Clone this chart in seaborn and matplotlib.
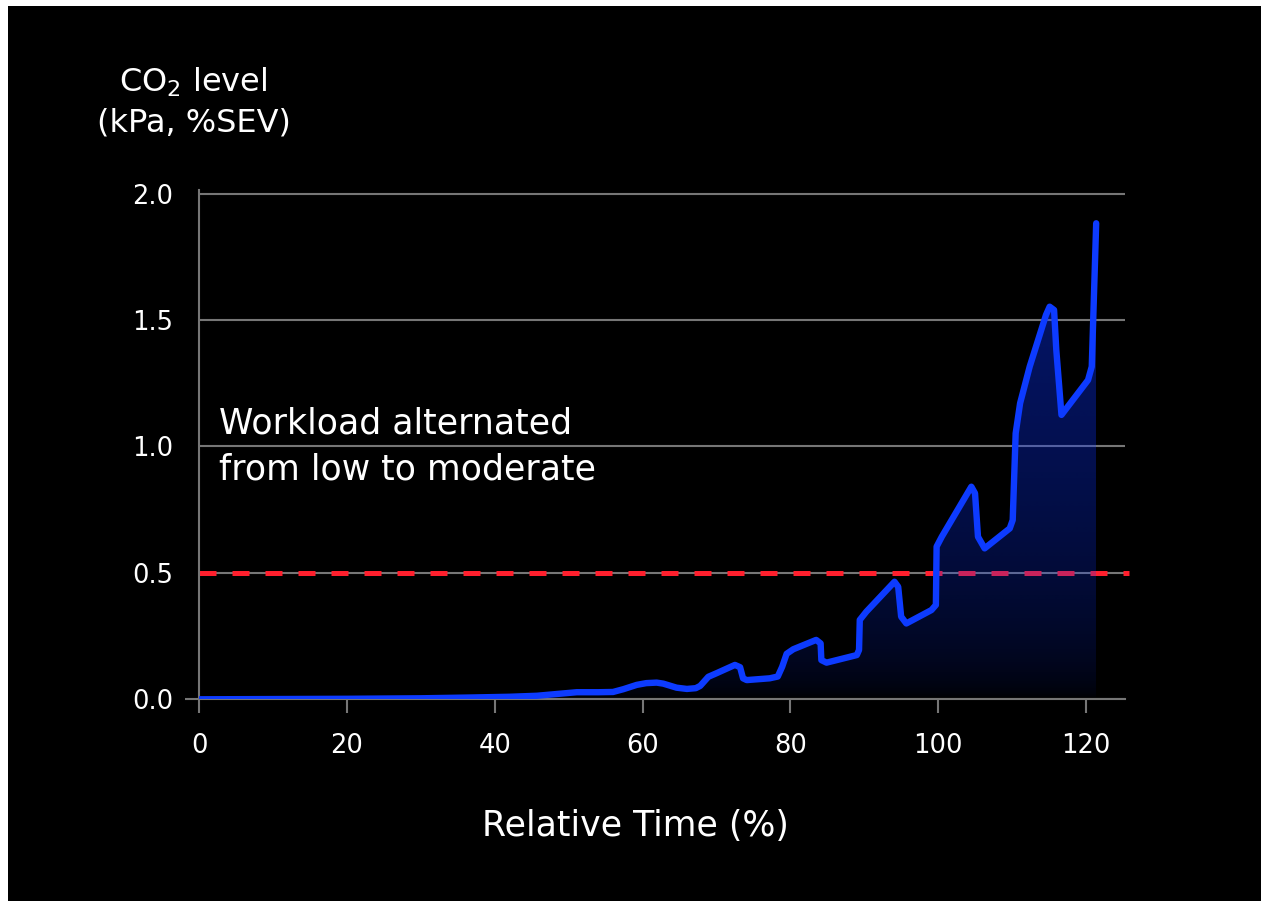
import numpy as np
import pandas as pd
import matplotlib
matplotlib.use("Agg")
import matplotlib.pyplot as plt
from matplotlib.patches import Polygon, Rectangle
import seaborn as sns

# ---- data ----
time_pct = [0, 10, 20, 30, 36.6, 42, 45.7, 48.4, 51.1, 54.0, 56.0, 57.4, 59.2, 60.5, 61.9,
            62.8, 64.6, 66.0, 67.2, 67.8, 68.9, 70.0, 72.5, 73.2, 73.6, 74.1, 77.2, 78.3,
            78.9, 79.5, 80.4, 83.5, 84.1, 84.2, 84.9, 89.0, 89.3, 89.4, 90.3, 94.1, 94.6,
            95.0, 95.7, 99.1, 99.7, 99.8, 100.5, 104.5, 105.0, 105.4, 106.3, 109.7,
            110.1, 110.5, 111.1, 112.4, 114.6, 115.1, 115.7, 116.0, 116.7, 120.3, 120.8,
            121.4]
co2_level = [0.0, 0.001, 0.002, 0.004, 0.007, 0.010, 0.014, 0.021, 0.028, 0.028, 0.029,
             0.040, 0.057, 0.064, 0.066, 0.062, 0.046, 0.041, 0.044, 0.053, 0.089, 0.103,
             0.136, 0.127, 0.083, 0.076, 0.083, 0.090, 0.129, 0.180, 0.198, 0.235, 0.221,
             0.155, 0.145, 0.175, 0.195, 0.314, 0.347, 0.465, 0.445, 0.327, 0.300, 0.353,
             0.373, 0.604, 0.643, 0.841, 0.815, 0.643, 0.597, 0.676, 0.709, 1.052, 1.171,
             1.316, 1.520, 1.553, 1.540, 1.382, 1.125, 1.263, 1.316, 1.883]
threshold = 0.5
x_ticks = [0, 20, 40, 60, 80, 100, 120]
y_ticks = [0.0, 0.5, 1.0, 1.5, 2.0]
y_tick_labels = ["0.0", "0.5", "1.0", "1.5", "2.0"]
annotation = "Workload alternated\nfrom low to moderate"
x_title = "Relative Time (%)"

df = pd.DataFrame({"time": time_pct, "co2": co2_level})

sns.set_theme(style="dark")
FONT = ["DejaVu Sans"]
plt.rcParams["font.family"] = FONT
plt.rcParams["mathtext.fontset"] = "dejavusans"

W, H = 1261, 901
fig = plt.figure(figsize=(W / 100, H / 100), dpi=100, facecolor="white")
# black panel
fig.patches.append(Rectangle((8 / W, 0), 1 - 8 / W, (H - 6) / H, transform=fig.transFigure,
                             facecolor="black", edgecolor="none", zorder=-10))

left, right = 199.3 / W, 1125 / W
bottom, top = 1 - 699.3 / H, 1 - 189.9 / H
ax = fig.add_axes([left, bottom, right - left, top - bottom])
ax.set_facecolor("none")

XMAX, YMAX = 125.3, 2.015
GRID = "#767676"
BLUE = "#0d3bff"
RED = "#ff1f2d"

ax.set_yticks(y_ticks)
ax.set_yticklabels(y_tick_labels)
ax.set_xticks(x_ticks)
ax.yaxis.grid(True, color=GRID, linewidth=1.5, zorder=1)
ax.xaxis.grid(False)
ax.set_axisbelow(True)

# threshold line
ax.axhline(threshold, xmin=0, xmax=1.0045, color=RED, linewidth=3.6,
           dashes=(3.4, 3.2), dash_capstyle="butt", clip_on=False, zorder=2)

# gradient fill under curve
ymax_data = max(co2_level)
rows = 300
yy = np.linspace(0, ymax_data, rows)
alpha = 0.44 * np.sqrt(yy / 1.9)
img = np.zeros((rows, 2, 4))
img[:, :, 0] = 0.04
img[:, :, 1] = 0.20
img[:, :, 2] = 1.0
img[:, :, 3] = alpha[:, None]
im = ax.imshow(img, extent=[min(time_pct), max(time_pct), 0, ymax_data], origin="lower",
               aspect="auto", interpolation="bilinear", zorder=3)
verts = np.column_stack([np.r_[time_pct, time_pct[-1], time_pct[0]],
                         np.r_[co2_level, 0, 0]])
clip = Polygon(verts, closed=True, facecolor="none", edgecolor="none", transform=ax.transData)
ax.add_patch(clip)
im.set_clip_path(clip)

# the line
sns.lineplot(data=df, x="time", y="co2", ax=ax, color=BLUE, linewidth=4.6,
             sort=False, estimator=None, zorder=5)
ln = ax.get_lines()[-1]
ln.set_solid_joinstyle("round")
ln.set_solid_capstyle("round")

ax.set_xlim(0, XMAX)
ax.set_ylim(0, YMAX)
ax.set_xlabel("")
ax.set_ylabel("")

for s in ["top", "right"]:
    ax.spines[s].set_visible(False)
for s in ["left", "bottom"]:
    ax.spines[s].set_visible(True)
    ax.spines[s].set_color(GRID)
    ax.spines[s].set_linewidth(1.5)
    ax.spines[s].set_zorder(4)

ax.tick_params(axis="x", colors=GRID, length=10, width=1.5, direction="out", pad=14,
               labelcolor="white", labelsize=18.5, bottom=True)
ax.tick_params(axis="y", length=0, pad=19, labelcolor="white", labelsize=18.5, left=True)

# small extension of the x axis to the left at 0
ax.plot([-0.015, 0], [0, 0], transform=ax.get_yaxis_transform(), color=GRID,
        linewidth=1.5, clip_on=False, solid_capstyle="butt", zorder=4)

# texts
fig.text(193.5 / W, 1 - 92 / H, "CO$_{\\mathrm{2}}$ level", color="white", fontsize=23,
         ha="center", va="baseline")
fig.text(193.5 / W, 1 - 132 / H, "(kPa, %SEV)", color="white", fontsize=23,
         ha="center", va="baseline")
lines = annotation.split("\n")
fig.text(219 / W, 1 - 433 / H, lines[0], color="white", fontsize=25, ha="left",
         va="baseline")
fig.text(219 / W, 1 - 479 / H, lines[1], color="white", fontsize=25, ha="left",
         va="baseline")
fig.text(635.5 / W, 1 - 836 / H, x_title, color="white", fontsize=25, ha="center",
         va="baseline")

fig.savefig("out.png", dpi=100, facecolor="white")
